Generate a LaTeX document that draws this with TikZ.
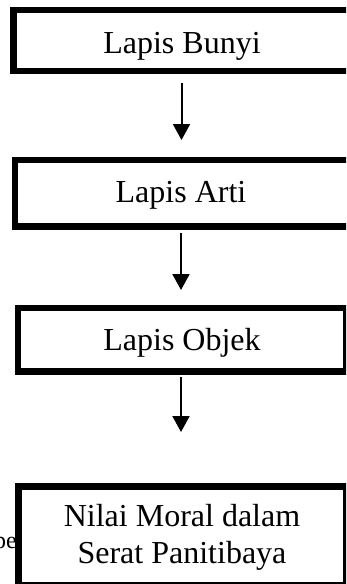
\documentclass[tikz,border=0pt]{standalone}
\usepackage{fontspec}
\setmainfont{Liberation Serif}
\usetikzlibrary{arrows.meta}
\begin{document}
\begin{tikzpicture}[x=1pt,y=-1pt,
  box/.style={draw=black, line width=6.8pt, fill=white, inner sep=0pt, outer sep=0pt},
  lbl/.style={font=\fontsize{32}{37}\selectfont, inner sep=0pt, anchor=base},
  arr/.style={line width=2pt, -{Triangle[width=17pt,length=16pt]}}]
\useasboundingbox (0,0) rectangle (346,584);
\clip (0,0) rectangle (346,584);
% boxes
\node[box, minimum width=338.5pt, minimum height=61pt] (b1) at (182.75,40.5) {};
\node[box, minimum width=337pt, minimum height=66.5pt] (b2) at (183.5,193.25) {};
\node[box, minimum width=328pt, minimum height=63.5pt] (b3) at (182,339.75) {};
\node[font=\fontsize{24}{28}\selectfont, inner sep=0pt, anchor=base west] (pe) at (-6,548) {pe};
\node[box, minimum width=328.2pt, minimum height=98.5pt] (b4) at (182.4,535.75) {};
% labels
\node[lbl] (t1) at (182,53) {Lapis Bunyi};
\node[lbl] (t2) at (181,202) {Lapis Arti};
\node[lbl] (t3) at (182,350) {Lapis Objek};
\node[lbl] (t4a) at (182,526) {Nilai Moral dalam};
\node[lbl] (t4b) at (182,563) {Serat Panitibaya};
% arrow ends
\coordinate (a1s) at (181.5,83);
\coordinate (a1e) at (181.5,140);
\coordinate (a2s) at (181,233);
\coordinate (a2e) at (181,290);
\coordinate (a3s) at (181,377);
\coordinate (a3e) at (181,432);
\draw[arr] (a1s) -- (a1e);
\draw[arr] (a2s) -- (a2e);
\draw[arr] (a3s) -- (a3e);
\end{tikzpicture}
\end{document}
